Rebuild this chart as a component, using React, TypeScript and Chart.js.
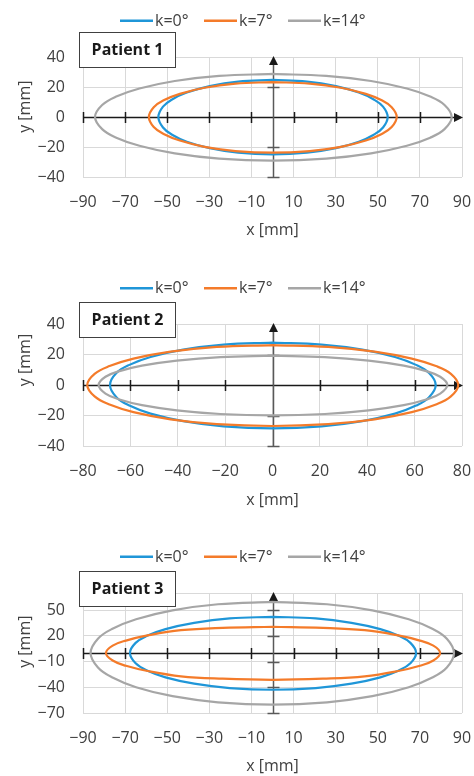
import React, { useEffect, useRef } from 'react';
import { Chart, registerables } from 'chart.js';
Chart.register(...registerables);

type Pt = [number, number];

const seriesLabels = ['k=0°', 'k=7°', 'k=14°'];
const seriesColors = ['#1f96d8', '#f47b2a', '#a6a6a6'];

// Patient 1
const p1XTicks = [-90, -70, -50, -30, -10, 10, 30, 50, 70, 90];
const p1YTicks = [-40, -20, 0, 20, 40];
const p1k0: Pt[] = [[0,24.7],[16.4,23.6],[30.1,20.6],[41.0,16.3],[48.1,11.7],[52.5,6.9],[54.7,0],[52.5,-7.0],[48.1,-11.8],[41.0,-16.5],[30.1,-20.8],[16.4,-23.8],[0,-24.9],[-16.3,-23.8],[-29.8,-20.8],[-40.7,-16.5],[-47.7,-11.8],[-52.0,-7.0],[-54.2,0],[-52.0,6.9],[-47.7,11.7],[-40.7,16.3],[-29.8,20.6],[-16.3,23.6],[0,24.7]];
const p1k7: Pt[] = [[0,23.3],[17.7,22.2],[32.5,19.5],[44.3,15.4],[51.9,11.1],[56.6,6.5],[59.0,0],[56.6,-6.7],[51.9,-11.3],[44.3,-15.7],[32.5,-19.9],[17.7,-22.7],[0,-23.8],[-17.6,-22.7],[-32.3,-19.9],[-44.0,-15.7],[-51.7,-11.3],[-56.4,-6.7],[-58.7,0],[-56.4,6.5],[-51.7,11.1],[-44.0,15.4],[-32.3,19.5],[-17.6,22.2],[0,23.3]];
const p1k14: Pt[] = [[0,28.7],[25.5,27.4],[46.8,24.0],[63.8,19.0],[74.9,13.6],[81.7,8.0],[85.1,0],[81.7,-8.1],[74.9,-13.8],[63.8,-19.2],[46.8,-24.3],[25.5,-27.8],[0,-29.1],[-25.3,-27.8],[-46.4,-24.3],[-63.2,-19.2],[-74.2,-13.8],[-80.9,-8.1],[-84.3,0],[-80.9,8.0],[-74.2,13.6],[-63.2,19.0],[-46.4,24.0],[-25.3,27.4],[0,28.7]];

// Patient 2
const p2XTicks = [-80, -60, -40, -20, 0, 20, 40, 60, 80];
const p2YTicks = [-40, -20, 0, 20, 40];
const p2k0: Pt[] = [[0,27.8],[20.7,26.5],[37.9,23.2],[51.7,18.4],[60.6,13.2],[66.1,7.8],[68.9,0],[66.1,-8.0],[60.6,-13.5],[51.7,-18.8],[37.9,-23.7],[20.7,-27.1],[0,-28.4],[-20.6,-27.1],[-37.7,-23.7],[-51.5,-18.8],[-60.4,-13.5],[-65.9,-8.0],[-68.6,0],[-65.9,7.8],[-60.4,13.2],[-51.5,18.4],[-37.7,23.2],[-20.6,26.5],[0,27.8]];
const p2k7: Pt[] = [[0,26.2],[23.5,25.0],[43.1,21.9],[58.8,17.3],[69.0,12.4],[75.3,7.3],[78.4,0],[75.3,-7.5],[69.0,-12.8],[58.8,-17.8],[43.1,-22.5],[23.5,-25.7],[0,-26.9],[-23.5,-25.7],[-43.0,-22.5],[-58.7,-17.8],[-68.8,-12.8],[-75.1,-7.5],[-78.2,0],[-75.1,7.3],[-68.8,12.4],[-58.7,17.3],[-43.0,21.9],[-23.5,25.0],[0,26.2]];
const p2k14: Pt[] = [[0,19.2],[22.1,18.3],[40.6,16.0],[55.4,12.7],[64.9,9.1],[70.8,5.4],[73.8,0],[70.8,-5.6],[64.9,-9.5],[55.4,-13.2],[40.6,-16.6],[22.1,-19.0],[0,-19.9],[-22.0,-19.0],[-40.4,-16.6],[-55.1,-13.2],[-64.6,-9.5],[-70.5,-5.6],[-73.4,0],[-70.5,5.4],[-64.6,9.1],[-55.1,12.7],[-40.4,16.0],[-22.0,18.3],[0,19.2]];

// Patient 3
const p3XTicks = [-90, -70, -50, -30, -10, 10, 30, 50, 70, 90];
const p3YTicks = [-70, -40, -10, 20, 50];
const p3k0: Pt[] = [[0,42.2],[20.5,40.3],[37.5,35.2],[51.2,27.9],[60.0,20.0],[65.5,11.8],[68.2,0],[65.5,-12.0],[60.0,-20.4],[51.2,-28.4],[37.5,-35.8],[20.5,-40.9],[0,-42.9],[-20.3,-40.9],[-37.2,-35.8],[-50.8,-28.4],[-59.6,-20.4],[-65.0,-12.0],[-67.7,0],[-65.0,11.8],[-59.6,20.0],[-50.8,27.9],[-37.2,35.2],[-20.3,40.3],[0,42.2]];
const p3k7: Pt[] = [[0,30.6],[23.9,29.4],[43.8,26.6],[59.7,20.5],[70.0,14.5],[76.4,8.6],[79.6,0],[76.4,-8.8],[70.0,-14.9],[59.7,-21.0],[43.8,-27.2],[23.9,-30.0],[0,-31.3],[-23.7,-30.0],[-43.5,-27.2],[-59.3,-21.0],[-69.6,-14.9],[-75.9,-8.8],[-79.1,0],[-75.9,8.6],[-69.6,14.5],[-59.3,20.5],[-43.5,26.6],[-23.7,29.4],[0,30.6]];
const p3k14: Pt[] = [[0,59.6],[25.9,56.9],[47.4,49.8],[64.7,39.4],[75.9,28.3],[82.8,16.7],[86.2,0],[82.8,-16.9],[75.9,-28.6],[64.7,-39.9],[47.4,-50.4],[25.9,-57.5],[0,-60.3],[-25.9,-57.5],[-47.5,-50.4],[-64.8,-39.9],[-76.0,-28.6],[-82.9,-16.9],[-86.4,0],[-82.9,16.7],[-76.0,28.3],[-64.8,39.4],[-47.5,49.8],[-25.9,56.9],[0,59.6]];

const FONT = '"Open Sans", "DejaVu Sans", sans-serif';
const TEXT = '#404040';

interface Panel {
  title: string;
  xMin: number; xMax: number; yMin: number; yMax: number;
  xTicks: number[]; yTicks: number[];
  series: Pt[][];
  top: number; height: number; padTop: number; xAxisH: number; titlePad: number;
  legendY: number; boxTop: number; yTitleY: number;
}

const panels: Panel[] = [
  { title: 'Patient 1', xMin: -90, xMax: 90, yMin: -40, yMax: 40, xTicks: p1XTicks, yTicks: p1YTicks,
    series: [p1k0, p1k7, p1k14], top: 0, height: 250, padTop: 57, xAxisH: 73, titlePad: 10,
    legendY: 20.7, boxTop: 31.7, yTitleY: 106.7 },
  { title: 'Patient 2', xMin: -80, xMax: 80, yMin: -40, yMax: 40, xTicks: p2XTicks, yTicks: p2YTicks,
    series: [p2k0, p2k7, p2k14], top: 258, height: 261, padTop: 66, xAxisH: 73, titlePad: 9,
    legendY: 30.3, boxTop: 43.7, yTitleY: 102 },
  { title: 'Patient 3', xMin: -90, xMax: 90, yMin: -70, yMax: 70, xTicks: p3XTicks, yTicks: p3YTicks,
    series: [p3k0, p3k7, p3k14], top: 520, height: 256, padTop: 73, xAxisH: 63, titlePad: 0,
    legendY: 36.7, boxTop: 50.7, yTitleY: 121.7 },
];

const fmt = (v: number) => (v < 0 ? '\u2212' + Math.abs(v) : String(v));

function makeDecor(p: Panel) {
  return {
    id: 'decor',
    beforeDatasetsDraw(chart: any) {
      const { ctx, chartArea: a } = chart;
      const xs = chart.scales.x, ys = chart.scales.y;
      const y0 = Math.round(ys.getPixelForValue(0)) + 0.5;
      const x0 = Math.round(xs.getPixelForValue(0)) + 0.5;
      ctx.save();
      // horizontal axis
      ctx.strokeStyle = '#1a1a1a';
      ctx.fillStyle = '#1a1a1a';
      ctx.lineWidth = 1.5;
      ctx.beginPath(); ctx.moveTo(a.left, y0); ctx.lineTo(a.right - 4, y0); ctx.stroke();
      p.xTicks.forEach((v) => {
        if (v >= p.xMax || v === 0) return;
        const px = Math.round(xs.getPixelForValue(v)) + 0.5;
        ctx.beginPath(); ctx.moveTo(px, y0 - 5.5); ctx.lineTo(px, y0 + 5.5); ctx.stroke();
      });
      ctx.beginPath();
      ctx.moveTo(a.right + 1, y0); ctx.lineTo(a.right - 8, y0 - 4.5); ctx.lineTo(a.right - 8, y0 + 4.5);
      ctx.closePath(); ctx.fill();
      // vertical axis
      ctx.strokeStyle = '#595959';
      ctx.fillStyle = '#1a1a1a';
      ctx.beginPath(); ctx.moveTo(x0, a.bottom); ctx.lineTo(x0, a.top + 4); ctx.stroke();
      p.yTicks.forEach((v) => {
        if (v >= p.yMax || v === 0) return;
        const py = Math.round(ys.getPixelForValue(v)) + 0.5;
        ctx.beginPath(); ctx.moveTo(x0 - 6, py); ctx.lineTo(x0 + 6, py); ctx.stroke();
      });
      ctx.beginPath();
      ctx.moveTo(x0, a.top - 1); ctx.lineTo(x0 - 4.5, a.top + 8); ctx.lineTo(x0 + 4.5, a.top + 8);
      ctx.closePath(); ctx.fill();
      ctx.restore();
    },
    afterDraw(chart: any) {
      const { ctx } = chart;
      ctx.save();
      // legend
      const starts = [120, 204, 288];
      ctx.font = `16px ${FONT}`;
      ctx.textBaseline = 'middle';
      ctx.textAlign = 'left';
      seriesLabels.forEach((lab, i) => {
        const x = starts[i];
        ctx.strokeStyle = seriesColors[i];
        ctx.lineWidth = 2.5;
        ctx.beginPath(); ctx.moveTo(x, p.legendY); ctx.lineTo(x + 33, p.legendY); ctx.stroke();
        ctx.fillStyle = TEXT;
        ctx.fillText(lab, x + 35, p.legendY + 0.5);
      });
      // title box
      ctx.fillStyle = '#ffffff';
      ctx.fillRect(79.5, Math.round(p.boxTop) + 0.5, 96, 35);
      ctx.strokeStyle = '#404040';
      ctx.lineWidth = 1;
      ctx.strokeRect(79.5, Math.round(p.boxTop) + 0.5, 96, 35);
      ctx.fillStyle = '#1a1a1a';
      ctx.font = `bold 16px ${FONT}`;
      ctx.textAlign = 'center';
      ctx.fillText(p.title, 127.5, Math.round(p.boxTop) + 18.5);
      // y title
      ctx.translate(25, p.yTitleY);
      ctx.rotate(-Math.PI / 2);
      ctx.font = `16px ${FONT}`;
      ctx.fillStyle = TEXT;
      ctx.fillText('y [mm]', 0, 0);
      ctx.restore();
    },
  };
}

function PanelChart({ p }: { p: Panel }) {
  const ref = useRef<HTMLCanvasElement | null>(null);
  useEffect(() => {
    if (!ref.current) return;
    const chart = new Chart(ref.current, {
      type: 'scatter',
      data: {
        datasets: p.series.map((s, i) => ({
          label: seriesLabels[i],
          data: s.map(([x, y]) => ({ x, y })),
          showLine: true,
          borderColor: seriesColors[i],
          backgroundColor: seriesColors[i],
          borderWidth: 2.2,
          pointRadius: 0,
          pointHoverRadius: 0,
          tension: 0.4,
          order: 3 - i,
        })),
      },
      options: {
        animation: false,
        responsive: false,
        devicePixelRatio: 1,
        events: [],
        layout: { padding: { top: p.padTop, left: 0, right: 12, bottom: 0 } },
        plugins: { legend: { display: false }, tooltip: { enabled: false } },
        scales: {
          x: {
            type: 'linear', min: p.xMin, max: p.xMax,
            afterBuildTicks: (sc: any) => { sc.ticks = p.xTicks.map((v) => ({ value: v })); },
            afterFit: (sc: any) => { sc.height = p.xAxisH; sc.paddingLeft = 0; sc.paddingRight = 0; },
            grid: { color: '#d9d9d9', lineWidth: 1, drawTicks: false },
            border: { display: false },
            ticks: { padding: 16, color: TEXT, font: { family: FONT, size: 16 }, maxRotation: 0, autoSkip: false,
              callback: (v: any) => fmt(Number(v)) },
            title: { display: true, text: 'x [mm]', color: TEXT, font: { family: FONT, size: 16, lineHeight: 1.2 },
              padding: { top: 0, bottom: p.titlePad } },
          },
          y: {
            type: 'linear', min: p.yMin, max: p.yMax,
            afterBuildTicks: (sc: any) => {
              const t = p.yTicks.slice();
              if (!t.includes(p.yMax)) t.push(p.yMax);
              sc.ticks = t.map((v) => ({ value: v }));
            },
            afterFit: (sc: any) => { sc.width = 83; sc.paddingTop = 0; sc.paddingBottom = 0; },
            grid: { color: '#d9d9d9', lineWidth: 1, drawTicks: false },
            border: { display: false },
            ticks: { padding: 18, color: TEXT, font: { family: FONT, size: 16 }, autoSkip: false,
              callback: (v: any) => (p.yTicks.includes(Number(v)) ? fmt(Number(v)) : '') },
          },
        },
      },
      plugins: [makeDecor(p)],
    } as any);
    return () => chart.destroy();
  }, [p]);
  return (
    <canvas ref={ref} width={474} height={p.height}
      style={{ position: 'absolute', left: 0, top: p.top, width: 474, height: p.height, display: 'block' }} />
  );
}

export default function App() {
  return (
    <div style={{ position: 'absolute', left: 0, top: 0, width: 474, height: 776, overflow: 'hidden', background: '#fff' }}>
      {panels.map((p) => <PanelChart key={p.title} p={p} />)}
    </div>
  );
}
